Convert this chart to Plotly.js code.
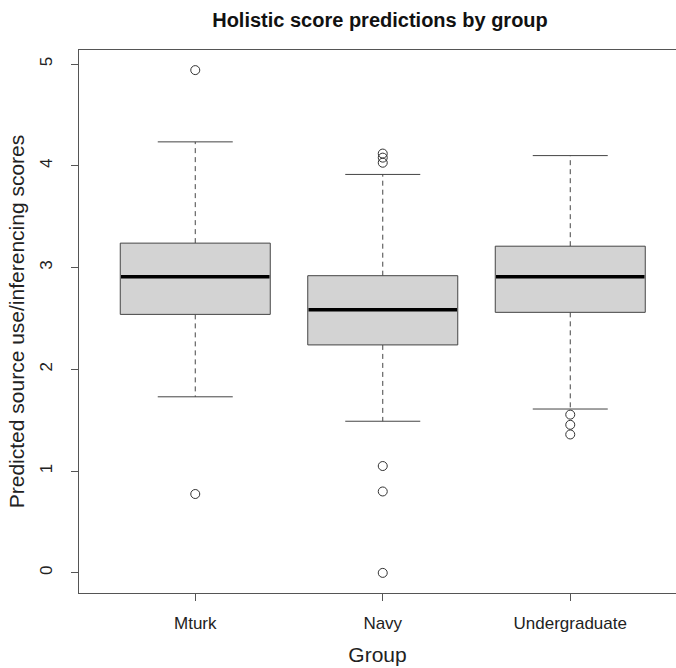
<!DOCTYPE html>
<html>
<head>
<meta charset="utf-8">
<script src="https://cdn.plot.ly/plotly-3.0.1.min.js"></script>
<style>html,body{margin:0;padding:0;background:#fff;}#chart{width:676px;height:668px;}</style>
</head>
<body>
<div id="chart"></div>
<script>
// Data
var categories = ['Mturk', 'Navy', 'Undergraduate'];
var q1 = [2.54, 2.24, 2.56];
var medians = [2.91, 2.585, 2.91];
var q3 = [3.24, 2.92, 3.21];
var lowerWhisker = [1.73, 1.49, 1.61];
var upperWhisker = [4.235, 3.915, 4.10];
var outliersMturk = [4.94, 0.775];
var outliersNavy = [4.12, 4.08, 4.03, 1.05, 0.80, 0.0];
var outliersUndergraduate = [1.555, 1.455, 1.36];
var yTicks = [0, 1, 2, 3, 4, 5];

var outlierSets = [outliersMturk, outliersNavy, outliersUndergraduate];
var halfBox = 0.4, halfCap = 0.2;
var font = 'Liberation Sans, Arial, sans-serif';

var traces = [];
// whiskers (dashed)
var wx = [], wy = [];
categories.forEach(function (c, i) {
  var p = i + 1;
  wx.push(p, p, null, p, p, null);
  wy.push(q3[i], upperWhisker[i], null, q1[i], lowerWhisker[i], null);
});
traces.push({x: wx, y: wy, mode: 'lines', type: 'scatter', hoverinfo: 'skip',
  line: {color: '#444', width: 1, dash: '5px,4px'}});
// caps
var cx = [], cy = [];
categories.forEach(function (c, i) {
  var p = i + 1;
  cx.push(p - halfCap, p + halfCap, null, p - halfCap, p + halfCap, null);
  cy.push(upperWhisker[i], upperWhisker[i], null, lowerWhisker[i], lowerWhisker[i], null);
});
traces.push({x: cx, y: cy, mode: 'lines', type: 'scatter', hoverinfo: 'skip',
  line: {color: '#444', width: 1}});
// boxes
categories.forEach(function (c, i) {
  var p = i + 1;
  traces.push({
    x: [p - halfBox, p + halfBox, p + halfBox, p - halfBox, p - halfBox],
    y: [q1[i], q1[i], q3[i], q3[i], q1[i]],
    mode: 'lines', type: 'scatter', fill: 'toself', fillcolor: '#d3d3d3',
    line: {color: '#444', width: 1}, name: c, hoverinfo: 'skip'
  });
});
// medians
var mx = [], my = [];
categories.forEach(function (c, i) {
  var p = i + 1;
  mx.push(p - halfBox + 0.004, p + halfBox - 0.004, null);
  my.push(medians[i], medians[i], null);
});
traces.push({x: mx, y: my, mode: 'lines', type: 'scatter', hoverinfo: 'skip',
  line: {color: '#000', width: 3.5}});
// outliers
var ox = [], oy = [];
outlierSets.forEach(function (set, i) {
  set.forEach(function (v) { ox.push(i + 1); oy.push(v); });
});
traces.push({x: ox, y: oy, mode: 'markers', type: 'scatter',
  marker: {symbol: 'circle-open', size: 9, color: '#333', line: {width: 1, color: '#333'}}});

var layout = {
  width: 676, height: 668,
  margin: {l: 79, r: 0, t: 50, b: 75, pad: 0},
  paper_bgcolor: '#fff', plot_bgcolor: '#fff',
  showlegend: false,
  font: {family: font, color: '#222'},
  title: {
    text: 'Holistic score predictions by group',
    font: {family: font, size: 20, weight: 'bold', color: '#111'},
    xref: 'container', x: 380 / 676, xanchor: 'center',
    yref: 'container', y: 1 - 20 / 668, yanchor: 'middle'
  },
  xaxis: {
    range: [0.38, 3.564], fixedrange: true,
    tickmode: 'array', tickvals: [1, 2, 3], ticktext: categories,
    ticks: 'outside', ticklen: 7, tickwidth: 1, tickcolor: '#555',
    tickfont: {family: font, size: 17, color: '#222'},
    ticklabelstandoff: 8,
    showgrid: false, zeroline: false,
    showline: true, linecolor: '#555', linewidth: 1, mirror: true,
    title: {text: 'Group', font: {family: font, size: 21, color: '#222'}, standoff: 14}
  },
  yaxis: {
    range: [-0.1976, 5.1376], fixedrange: true,
    tickmode: 'array', tickvals: yTicks, ticktext: yTicks.map(String),
    tickangle: -90,
    ticks: 'outside', ticklen: 7, tickwidth: 1, tickcolor: '#555',
    tickfont: {family: font, size: 17, color: '#222'},
    ticklabelstandoff: 12,
    showgrid: false, zeroline: false,
    showline: true, linecolor: '#555', linewidth: 1, mirror: false,
    title: {text: 'Predicted source use/inferencing scores', font: {family: font, size: 21, color: '#222'}, standoff: 6}
  }
};

Plotly.newPlot('chart', traces, layout, {displayModeBar: false, staticPlot: true});
</script>
</body>
</html>
